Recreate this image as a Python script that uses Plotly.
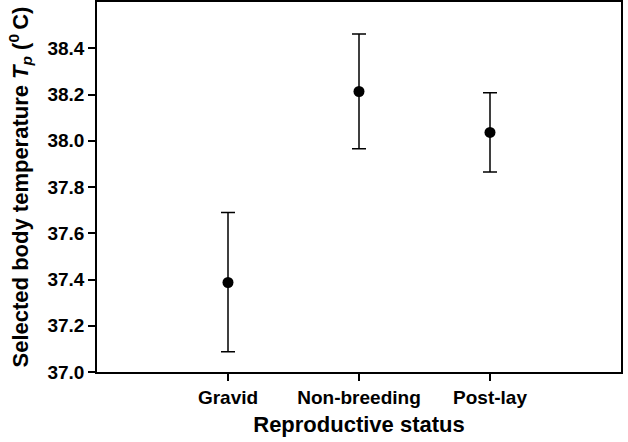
import plotly.graph_objects as go

categories = ["Gravid", "Non-breeding", "Post-lay"]
means = [37.387, 38.213, 38.036]
upper = [37.69, 38.462, 38.208]
lower = [37.088, 37.965, 37.865]
y_ticks = [37.0, 37.2, 37.4, 37.6, 37.8, 38.0, 38.2, 38.4]

err_plus = [u - m for u, m in zip(upper, means)]
err_minus = [m - l for m, l in zip(means, lower)]
xpos = list(range(len(categories)))

fig = go.Figure()
fig.add_trace(go.Scatter(
    x=xpos, y=means, mode="markers",
    marker=dict(color="black", size=11),
    error_y=dict(type="data", symmetric=False, array=err_plus, arrayminus=err_minus,
                 color="black", thickness=1.5, width=7),
    showlegend=False,
))

font_family = "Liberation Sans, Arial, sans-serif"
fig.update_layout(
    width=628, height=442,
    margin=dict(l=97, r=7, t=2, b=70, autoexpand=False),
    plot_bgcolor="white", paper_bgcolor="white",
    font=dict(family=font_family, color="black"),
    xaxis=dict(
        range=[-1, 3], tickmode="array", tickvals=xpos, ticktext=categories,
        ticks="outside", ticklen=7, tickwidth=1.5, tickcolor="black",
        showline=True, linecolor="black", linewidth=1.5, mirror=True,
        showgrid=False, zeroline=False, automargin=False,
        tickfont=dict(size=19, family=font_family, weight="bold"),
        title=dict(text="<b>Reproductive status</b>", font=dict(size=22), standoff=10),
    ),
    yaxis=dict(
        range=[37.0, 38.6], tickmode="array", tickvals=y_ticks,
        ticktext=[f"{v:.1f}" for v in y_ticks],
        ticks="outside", ticklen=7, tickwidth=1.5, tickcolor="black",
        showline=True, linecolor="black", linewidth=1.5, mirror=True,
        showgrid=False, zeroline=False, automargin=False,
        tickfont=dict(size=19, family=font_family, weight="bold"),
        title=dict(text="<b>Selected body temperature <i>T<sub>p</sub></i> (<sup>0 </sup>C)</b>",
                   font=dict(size=22, family=font_family, weight="bold"), standoff=13),
    ),
)
fig.write_html("out.html", config={"displayModeBar": False},
               post_script="document.body.style.margin='0';window.dispatchEvent(new Event('resize'));")
